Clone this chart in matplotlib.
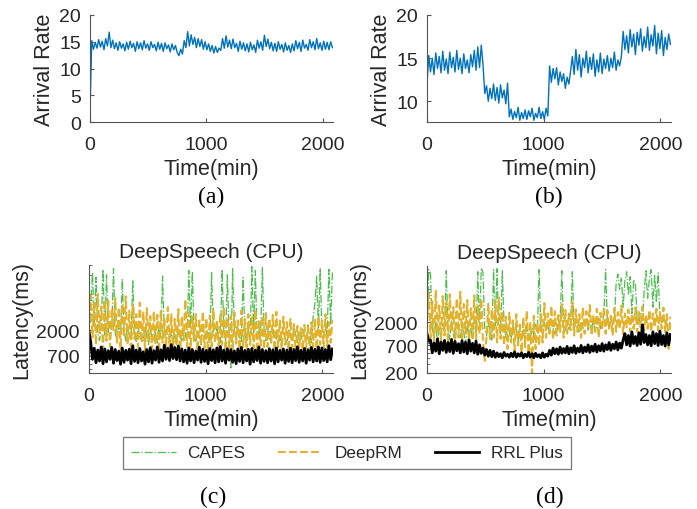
import numpy as np
import matplotlib
matplotlib.use("Agg")
import matplotlib.pyplot as plt
from matplotlib.ticker import FixedLocator, NullFormatter, LogLocator

# samples every 15 min
step = 15

# (a) arrival rate, stable workload
rate_a = [2.0,
          15.2, 13.6, 14.9, 13.8, 15.4, 14.0, 15.1, 13.5, 15.6, 14.2,
          16.8, 13.9, 15.3, 13.7, 14.8, 13.4, 15.0, 13.8, 14.6, 13.3,
          14.9, 13.6, 15.1, 13.9, 14.7, 13.2, 15.0, 13.7, 14.8, 13.5,
          15.2, 13.8, 14.6, 13.4, 15.0, 13.9, 14.5, 13.3, 14.9, 13.6,
          14.7, 13.2, 14.8, 13.7, 14.4, 13.1, 14.6, 13.5, 14.3, 13.0,
          12.4, 13.6, 12.7, 15.2, 13.9,
          16.9, 14.2, 16.3, 14.5, 15.8, 13.9, 15.6, 14.1, 15.4, 13.6,
          15.0, 13.5, 14.6, 13.2, 14.3, 12.9, 14.1, 13.0, 13.8, 13.4,
          15.6, 13.8, 16.1, 14.0, 15.3, 13.7, 15.5, 13.9, 14.7, 13.2,
          15.1, 13.6, 14.8, 13.3, 14.6, 13.1, 14.9, 13.5, 14.4, 13.0,
          15.3, 13.8, 15.0, 13.4, 16.2, 14.1, 15.5, 13.7, 14.9, 13.3,
          14.7, 13.2, 15.0, 13.6, 14.5, 13.1, 14.8, 13.4, 14.3, 13.0,
          14.6, 13.3, 15.2, 13.7, 14.9, 13.2, 15.3, 13.8, 14.5, 13.4,
          15.4, 13.9, 15.0, 13.5, 15.6, 13.7, 14.8, 13.4, 15.1, 13.6,
          14.9, 13.5, 15.0, 13.9]

# (b) arrival rate, shifting workload
rate_b = [12.0,
          15.3, 13.4, 15.0, 13.1, 15.6, 13.8, 15.2, 13.3, 15.8, 13.6,
          14.9, 13.2, 15.7, 13.9, 15.1, 13.4, 15.9, 13.7, 15.0, 13.2,
          15.5, 13.8, 14.8, 13.3, 15.4, 14.0, 15.9, 13.6, 16.3, 13.9,
          16.5, 14.2,
          10.9, 11.8, 10.0, 11.5, 10.3, 12.0, 10.1, 11.6, 9.8, 11.9, 10.4, 11.3, 9.7, 12.1,
          8.2, 9.1, 7.9, 8.8, 8.1, 9.3, 7.8, 8.7, 8.0, 9.0, 7.9, 8.9,
          8.2, 9.2, 7.8, 8.6, 8.1, 9.3, 8.0, 8.8, 7.9, 9.2, 8.3,
          14.1, 12.2, 13.8, 12.6, 13.9, 11.9, 13.4, 12.3, 13.2, 11.5, 12.8, 12.0, 13.5,
          15.2, 13.1, 16.0, 13.6, 15.4, 12.8, 15.0, 13.9, 15.8, 13.3,
          15.1, 13.7, 15.5, 12.9, 14.8, 13.4, 15.6, 13.2, 14.9, 13.8,
          15.3, 13.5, 15.0, 13.9, 15.7, 13.6, 14.8, 14.1, 15.2,
          18.1, 16.0, 17.6, 15.6, 18.3, 16.3, 17.8, 15.4, 18.0, 16.5,
          18.4, 15.8, 17.5, 16.2, 18.6, 15.9, 17.7, 16.4, 18.8, 15.5,
          17.9, 16.1, 18.2, 15.3, 17.4, 16.0, 17.8, 16.6]

# (c) latency under workload (a)
capes_c = [1500, 6000, 22000, 2500, 18000, 1800, 1300, 2400, 25000, 1600,
           20000, 2000, 1400, 2200, 26000, 1800, 1200, 2600, 1500, 17000,
           2100, 1300, 2300, 1600, 1400, 16000, 1900, 1200, 2400, 1500,
           1800, 1300, 2200, 1600, 1100, 2000, 1500, 1300, 1900, 1200,
           2300, 1500, 19000, 1700, 1200, 2200, 1400, 1800, 1300, 1600,
           1100, 2100, 1500, 1300, 2400, 1700, 1200, 24000, 2200, 23000,
           1800, 1300, 2000, 1500, 1100, 2300, 1600, 1400, 1900, 1200,
           22000, 1700, 1300, 2100, 1500, 1200, 25000, 1800, 1300, 20000,
           1600, 420, 26000, 1900, 1400, 2200, 1500, 1200, 18000, 1700,
           1300, 2100, 1500, 28000, 1800, 24000, 1400, 2000, 1600, 27000,
           1900, 1300, 2300, 1500, 1200, 2100, 1700, 1400, 1900, 1300,
           1600, 2200, 1400, 1100, 2000, 1500, 1300, 2400, 1600, 1200,
           1800, 1400, 2100, 1500, 1300, 2500, 1700, 1200, 3500, 6000,
           19000, 2200, 26000, 2000, 1500, 2300, 1700, 25000, 2500, 23000]
deeprm_c = [3000, 8500, 1500, 6200, 1100, 9000, 1800, 5400, 900, 7000,
            1300, 6800, 1000, 4800, 2000, 7600, 1200, 5200, 900, 6000,
            1500, 8200, 1100, 4500, 800, 5600, 1400, 3900, 1000, 6300,
            1200, 4200, 850, 5000, 1300, 3600, 900, 4400, 1100, 3800,
            800, 4600, 1200, 3400, 950, 5200, 1000, 3900, 780, 3200,
            1100, 4800, 700, 3600, 1300, 7200, 1000, 4100, 900, 3500,
            1200, 3900, 850, 3000, 1100, 4400, 950, 3300, 800, 3700,
            1000, 4900, 1200, 3100, 900, 3800, 1100, 5300, 850, 3400,
            1000, 3600, 800, 4200, 1150, 3000, 900, 4500, 1000, 3200,
            850, 3900, 1100, 3400, 950, 4700, 800, 3100, 1050, 3600,
            900, 4100, 1000, 3300, 1200, 3800, 850, 4300, 1000, 3000,
            900, 3500, 1100, 2800, 850, 3200, 950, 2600, 800, 2400,
            900, 2200, 850, 2500, 950, 2300, 800, 2800, 1000, 3200,
            900, 3600, 1100, 3000, 950, 3900, 1000, 2800, 1200, 3100]
rrl_c = [1900, 1200, 600,
         950, 520, 880, 560, 1000, 500, 920, 540, 860, 600,
         980, 510, 900, 570, 840, 490, 960, 530, 870, 580,
         910, 500, 1050, 550, 880, 520, 940, 560, 820, 490,
         900, 540, 970, 510, 860, 580, 1000, 530, 890, 560,
         1080, 600, 950, 570, 1100, 620, 980, 590, 1040, 560,
         920, 540, 880, 510, 960, 560, 900, 520, 850, 580,
         990, 530, 910, 550, 870, 500, 940, 570, 890, 520,
         960, 540, 1020, 560, 880, 510, 930, 580, 900, 530,
         850, 500, 920, 550, 980, 520, 870, 560, 910, 490,
         940, 540, 880, 570, 1000, 510, 900, 550, 860, 520,
         930, 560, 890, 500, 960, 540, 870, 580, 920, 510,
         880, 550, 950, 520, 900, 570, 1010, 530, 870, 560,
         940, 510, 890, 580, 980, 540, 910, 560, 1000, 530,
         960, 570, 900, 540, 1050, 590, 920]

# (d) latency under workload (b)
capes_d = [1200, 22000, 18000, 1500, 900, 2000, 700, 1600, 1100, 1800,
           1300, 21000, 1500, 900, 2200, 1200, 800, 1900, 1400, 1000,
           2000, 1300, 700, 1800, 1100, 1500, 900, 2300, 1200, 20000,
           1600, 24000, 19000, 1400, 1100, 2000, 1300, 900, 22000, 1700,
           23000, 1500, 1200, 21000, 1800, 1000, 1600, 1300, 900, 1800,
           1200, 1500, 800, 1700, 1100, 1400, 900, 1600, 1200, 1000,
           1500, 1100, 1800, 1300, 22000, 1600, 1200, 2000, 1400, 1700,
           1300, 2200, 1500, 1200, 1900, 1400, 2100, 21000, 1600, 1300,
           2000, 1500, 1800, 20000, 1400, 2200, 1600, 1300, 2000, 1500,
           1700, 2300, 1400, 1900, 1600, 2100, 1300, 1800, 2400, 1500,
           1900, 3000, 22000, 2000, 1600, 2500, 1800, 2200, 12000, 18000,
           9000, 15000, 4000, 13000, 20000, 7000, 16000, 3000, 14000, 11000,
           2500, 1900, 3000, 2200, 8000, 21000, 6000, 15000, 22000, 4000,
           17000, 5000, 19000, 2500, 2000, 2800, 1800, 2400, 2100, 1900]
deeprm_d = [2500, 7500, 1000, 5200, 800, 8800, 1200, 4300, 900, 6600,
            1100, 5000, 750, 7200, 1300, 4000, 900, 6000, 1000, 8000,
            850, 4600, 1200, 5500, 700, 3800, 1000, 6800, 900, 4200,
            1200, 5900, 800, 350, 1100, 4700, 900, 3600, 1000, 5400,
            800, 6200, 950, 3300, 700, 2600, 600, 3100, 800, 2200,
            550, 2900, 700, 1800, 500, 2500, 650, 3400, 480, 2000,
            200, 2700, 600, 1900, 700, 3200, 800, 4800, 1000, 3000,
            1200, 4200, 900, 3300, 1100, 2800, 1300, 4600, 1000, 3500,
            1200, 3000, 1400, 5000, 1100, 3600, 1300, 2900, 1000, 3900,
            1200, 3300, 1500, 4400, 1100, 2800, 1300, 3700, 1000, 3100,
            1400, 4000, 1200, 3400, 1500, 2700, 1100, 3800, 1300, 3200,
            1500, 4300, 1200, 3000, 1600, 3600, 1300, 2900, 1500, 3900,
            1300, 3200, 1600, 4100, 1400, 2800, 1500, 3500, 1300, 3000,
            1600, 3700, 1400, 3100, 1500, 3900, 1300, 2900, 600, 2600]
rrl_d = [1200, 850,
         900, 500, 780, 540, 950, 480, 820, 560, 880, 510,
         800, 530, 920, 490, 840, 550, 760, 500, 870, 520,
         810, 480, 900, 540, 770, 500, 850, 470, 720, 490,
         620, 450, 580, 430, 560, 420, 540, 410,
         500, 420, 480, 400, 510, 430, 470, 410, 490, 420,
         520, 410, 480, 430, 500, 400, 470, 420, 510, 410,
         480, 400, 490, 420, 460, 400, 500, 410, 470, 430,
         560, 450, 620, 480, 600, 470, 650, 490, 610, 500,
         670, 480, 630, 510, 690, 490, 620, 520, 700, 500,
         650, 530, 720, 510, 680, 540, 740, 520, 690, 550,
         760, 540, 720, 580, 800, 560, 740, 600, 820, 570,
         780, 620, 900,
         1200, 720, 1100, 680, 1300, 760, 1050, 700, 1250, 740,
         1800, 800, 1150, 720, 1100, 690, 1300, 760, 1200, 700,
         1350, 730, 1100, 680, 1250, 720, 1150]

xticks = [0, 1000, 2000]
labels_top = ["(a)", "(b)"]
labels_bot = ["(c)", "(d)"]

plt.rcParams['font.family'] = ['Liberation Sans', 'DejaVu Sans']
txt = '#262626'
blue = '#0072BD'
green = '#4DBE4D'
yellow = '#E3B22A'

fig = plt.figure(figsize=(6.97, 5.10), dpi=100)
W, H = 697.0, 510.0


def make_ax(x0, y0, x1, y1):
    return fig.add_axes([x0 / W, 1 - y1 / H, (x1 - x0) / W, (y1 - y0) / H])


def style(ax):
    for s in ['top', 'right']:
        ax.spines[s].set_visible(False)
    for s in ['left', 'bottom']:
        ax.spines[s].set_color('#555555')
        ax.spines[s].set_linewidth(0.8)
    ax.tick_params(direction='in', length=3, width=0.8, colors='#555555',
                   labelcolor=txt, labelsize=14)
    ax.tick_params(axis='x', pad=10)
    ax.tick_params(axis='y', pad=6.5)
    ax.tick_params(which='minor', direction='in', length=2, colors='#555555')
    ax.set_xlim(0, 2090)
    ax.set_xticks(xticks)
    ax.set_xlabel('Time(min)', fontsize=15.5, color=txt, labelpad=4)


ax_a = make_ax(90, 16, 333, 123)
ax_b = make_ax(427, 16, 671, 123)
ax_c = make_ax(89, 266, 333, 374)
ax_d = make_ax(427, 267, 671, 374)

t_a = np.arange(len(rate_a)) * step
ax_a.plot(t_a, rate_a, color=blue, lw=1.0)
ax_a.set_ylim(0, 20)
ax_a.set_yticks([0, 5, 10, 15, 20])
ax_a.set_ylabel('Arrival Rate', fontsize=15.5, color=txt, labelpad=3)
style(ax_a)

t_b = np.arange(len(rate_b)) * step
ax_b.plot(t_b, rate_b, color=blue, lw=1.0)
ax_b.set_ylim(7.6, 20)
ax_b.set_yticks([10, 15, 20])
ax_b.set_ylabel('Arrival Rate', fontsize=15.5, color=txt, labelpad=3)
style(ax_b)

for ax, cp, dr, rr, lo, hi in [(ax_c, capes_c, deeprm_c, rrl_c, 340, 30000),
                               (ax_d, capes_d, deeprm_d, rrl_d, 200, 26000)]:
    tt = np.arange(len(cp)) * step
    ax.plot(tt, cp, color=green, lw=0.9, ls='-.', label='CAPES')
    ax.plot(tt, dr, color=yellow, lw=1.5, ls='--', label='DeepRM')
    ax.plot(np.arange(len(rr)) * step, rr, color='black', lw=2.0, label='RRL Plus')
    ax.set_yscale('log')
    ax.set_ylim(lo, hi)
    ax.yaxis.set_major_locator(FixedLocator([200, 700, 2000]))
    ax.yaxis.set_major_formatter(matplotlib.ticker.FixedFormatter(['200', '700', '2000']))
    ax.yaxis.set_minor_locator(LogLocator(base=10, subs=np.arange(2, 10)))
    ax.yaxis.set_minor_formatter(NullFormatter())
    ax.set_ylabel('Latency(ms)', fontsize=15.5, color=txt, labelpad=3)
    ax.set_title('DeepSpeech (CPU)', fontsize=15, color=txt, pad=6)
    style(ax)

fig.text(211 / W, 1 - 197 / H, labels_top[0], family='Liberation Serif',
         fontsize=17, ha='center', va='center', color='black')
fig.text(549 / W, 1 - 197 / H, labels_top[1], family='Liberation Serif',
         fontsize=17, ha='center', va='center', color='black')
fig.text(213 / W, 1 - 497 / H, labels_bot[0], family='Liberation Serif',
         fontsize=17, ha='center', va='center', color='black')
fig.text(550 / W, 1 - 497 / H, labels_bot[1], family='Liberation Serif',
         fontsize=17, ha='center', va='center', color='black')

handles, names = ax_c.get_legend_handles_labels()
leg = fig.legend(handles, names, loc='center', ncol=3,
                 bbox_to_anchor=(347 / W, 1 - 454 / H), fontsize=12.3,
                 frameon=True, fancybox=False, handlelength=2.6,
                 columnspacing=1.9, borderpad=0.5, handletextpad=0.7)
leg.get_frame().set_edgecolor('#555555')
leg.get_frame().set_linewidth(0.9)
for text in leg.get_texts():
    text.set_color(txt)

fig.savefig('out.png', dpi=100)
